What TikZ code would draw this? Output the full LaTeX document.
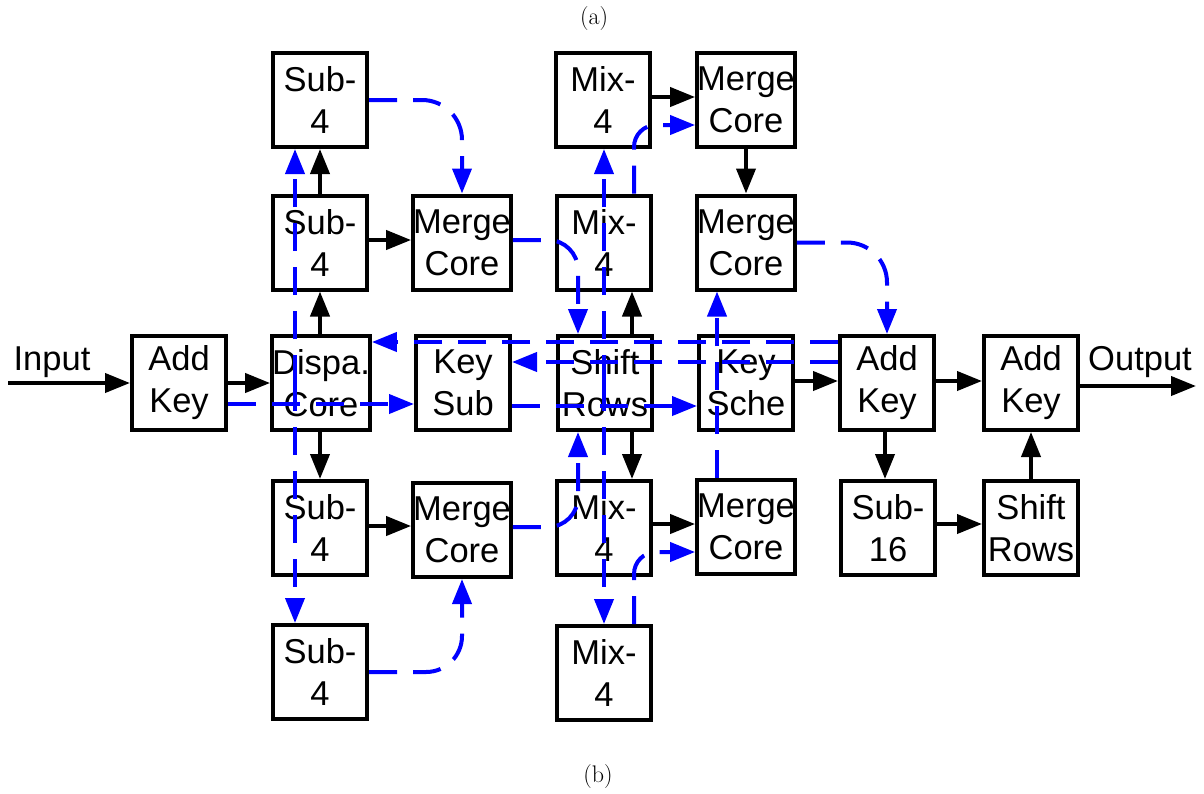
\documentclass[tikz,border=0pt]{standalone}
\usepackage{fontspec}
\setsansfont{Liberation Sans}
\usetikzlibrary{arrows.meta}
\begin{document}
\begin{tikzpicture}[x=1pt,y=-1pt,
  box/.style={draw, line width=4pt, minimum width=94pt, minimum height=94pt, inner sep=0pt, align=center, fill=white, font=\sffamily\fontsize{34.5}{42}\selectfont},
  lab/.style={font=\sffamily\fontsize{34.5}{42}\selectfont, inner sep=0pt},
  captxt/.style={font=\fontsize{24}{28}\selectfont, inner sep=0pt},
  blk/.style={line width=4pt, -{Triangle[length=25pt,width=19pt]}},
  blu/.style={blue, line width=4pt, dash pattern=on 28pt off 16pt, -{Triangle[length=25pt,width=19pt]}}]
\useasboundingbox (0,0) rectangle (1204,793);
% captions
\node[captxt] (capa) at (594,19) {(a)};
\node[captxt] (capb) at (598,776) {(b)};
% row 1
\node[box] (s1) at (320,100) {Sub-\\4};
\node[box] (m1) at (603,100) {Mix-\\4};
\node[box] (mct) at (746,99.5) {Merge\\Core};
% row 2
\node[box] (s2) at (320,242.5) {Sub-\\4};
\node[box] (mc2) at (462,242.5) {Merge\\Core};
\node[box] (m2) at (604,242.5) {Mix-\\4};
\node[box] (mc2r) at (746,242.5) {Merge\\Core};
% row 3
\node[box] (ak1) at (179,383) {Add\\Key};
\node[box] (dc) at (321,383) {Dispa.\\Core};
\node[box] (ksub) at (463,383) {Key\\Sub};
\node[box] (sr) at (605,383) {Shift\\Rows};
\node[box] (ksch) at (746,383) {Key\\Sche};
\node[box] (ak2) at (887,383) {Add\\Key};
\node[box] (ak3) at (1031,383) {Add\\Key};
% row 4
\node[box] (s4) at (320,528) {Sub-\\4};
\node[box] (mc4) at (462,530) {Merge\\Core};
\node[box] (m4) at (604,528) {Mix-\\4};
\node[box] (mc4r) at (746,527) {Merge\\Core};
\node[box] (s16) at (888,528) {Sub-\\16};
\node[box] (sr2) at (1031,528) {Shift\\Rows};
% row 5
\node[box] (s5) at (320,672) {Sub-\\4};
\node[box] (m5) at (604,673) {Mix-\\4};
% input / output
\coordinate (inp) at (8,383);
\coordinate (outp) at (1196,386);
\node[lab] (inlab) at (52,362) {Input};
\node[lab] (outlab) at (1140,362) {Output};
% black arrows
\draw[blk] (inp) -- (ak1.west);
\draw[blk] (ak1.east) -- (dc.west);
\draw[blk] (dc.north -| s2.south) -- (s2.south);
\draw[blk] (s2.north) -- (s1.south);
\draw[blk] (dc.south -| s4.north) -- (s4.north);
\draw[blk] (s2.east |- 0,240) -- (mc2.west |- 0,240);
\draw[blk] (s4.east |- 0,526) -- (mc4.west |- 0,526);
\draw[blk] (sr.north -| 632,0) -- (m2.south -| 632,0);
\draw[blk] (sr.south -| 632,0) -- (m4.north -| 632,0);
\draw[blk] (m1.east |- 0,97) -- (mct.west |- 0,97);
\draw[blk] (mct.south) -- (mc2r.north);
\draw[blk] (m4.east |- 0,524) -- (mc4r.west |- 0,524);
\draw[blk] (ksch.east |- 0,381) -- (ak2.west |- 0,381);
\draw[blk] (ak2.east |- 0,381) -- (ak3.west |- 0,381);
\draw[blk] (ak3.east |- outp) -- (outp);
\draw[blk] (ak2.south -| 885,0) -- (s16.north -| 885,0);
\draw[blk] (s16.east |- 0,524) -- (sr2.west |- 0,524);
\draw[blk] (sr2.north) -- (ak3.south);
% blue dashed paths
\draw[blu] (ak1.east |- 0,404) -- (ksub.west |- 0,404);
\draw[blu] (ksub.east |- 0,406) -- (ksch.west |- 0,406);
\draw[blu] (ak2.west |- 0,342) -- (dc.east |- 0,342);
\draw[blu] (ak2.west |- 0,362) -- (ksub.east |- 0,362);
\draw[blu] (dc.center -| 295,0) -- (s1.south -| 295,0);
\draw[blu] (dc.center -| 295,0) -- (s5.north -| 295,0);
\draw[blu, rounded corners=40pt] (s1.east) -- (s1.east -| mc2.north) -- (mc2.north);
\draw[blu, rounded corners=36pt] (s5.east) -- (s5.east -| mc4.south) -- (mc4.south);
\draw[blu, rounded corners=30pt] (mc2.east |- 0,240) -- (578,240) -- (sr.north -| 578,0);
\draw[blu, rounded corners=30pt] (mc4.east |- 0,527) -- (578,527) -- (sr.south -| 578,0);
\draw[blu] (sr.center -| 604,0) -- (m1.south -| 604,0);
\draw[blu] (sr.center -| 604,0) -- (m5.north -| 604,0);
\draw[blu, rounded corners=22pt] (m2.north -| 634,0) -- (634,125) -- (mct.west |- 0,125);
\draw[blu, rounded corners=22pt] (m5.north -| 634,0) -- (634,552) -- (mc4r.west |- 0,552);
\draw[blu] (mc4r.north -| 717,0) -- (mc2r.south -| 717,0);
\draw[blu, rounded corners=40pt] (mc2r.east) -- (mc2r.east -| ak2.north) -- (ak2.north);
\end{tikzpicture}
\end{document}
